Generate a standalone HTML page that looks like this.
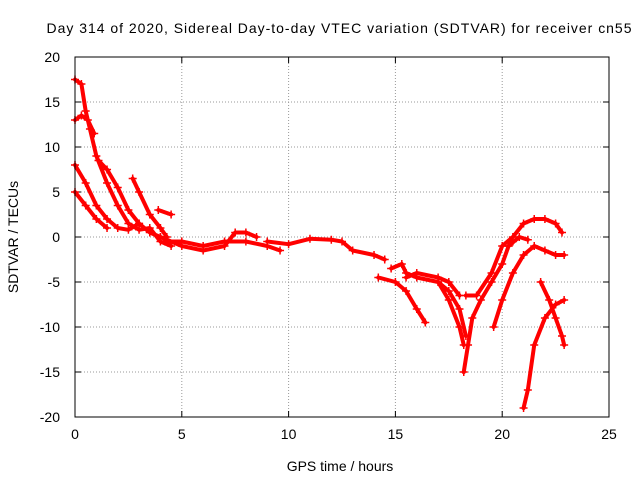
<!DOCTYPE html>
<html><head><meta charset="utf-8"><style>
html,body{margin:0;padding:0;background:#fff;}
svg{display:block;font-family:"Liberation Sans",sans-serif;}
</style></head><body>
<svg id="chart" width="640" height="480" viewBox="0 0 640 480">
<rect width="640" height="480" fill="#fff"/>
<text x="339" y="33" text-anchor="middle" font-size="14" textLength="585" lengthAdjust="spacing">Day 314 of 2020, Sidereal Day-to-day VTEC variation (SDTVAR) for receiver cn55</text>
<g id="grid"></g>
<g id="axes"></g>
<g id="series"></g>
<rect x="75" y="57" width="534" height="360" fill="none" stroke="#000" stroke-width="1"/>
<text x="340" y="471" text-anchor="middle" font-size="14">GPS time / hours</text>
<text x="18" y="237" text-anchor="middle" font-size="14" transform="rotate(-90 18 237)">SDTVAR / TECUs</text>
</svg>
<script>
const xTicks=[0,5,10,15,20,25];
const yTicks=[20,15,10,5,0,-5,-10,-15,-20];
const track1=[[0,17.5],[0.3,17],[0.5,14],[0.7,12],[1,9],[1.5,6],[2,3.5],[2.5,1.5],[3,0.8],[3.5,1],[4,-0.5],[4.5,-1]];
const track2=[[0,13],[0.3,13.5],[0.6,13],[0.9,11.5]];
const track3=[[0,8],[0.5,6],[1,3.5],[1.5,2],[2,1],[2.5,0.8],[3,1.5]];
const track4=[[0,5],[0.5,3.5],[1,2],[1.5,1]];
const track5=[[1.1,8.5],[1.5,7.5],[2,5.5],[2.5,3],[3,1.5],[3.5,0.5],[4,0]];
const track6=[[2.7,6.5],[3,5],[3.5,2.5],[4,1],[4.3,0]];
const track7=[[3.9,3],[4.5,2.5]];
const track8=[[4,0],[5,-1],[6,-1.5],[7,-1],[7.5,0.5],[8,0.5],[8.5,0]];
const track9=[[4.2,-0.5],[5,-0.5],[6,-1],[7,-0.5],[8,-0.5],[9,-1],[9.6,-1.5]];
const track10=[[9,-0.5],[10,-0.8],[11,-0.2],[12,-0.3],[12.5,-0.5],[13,-1.5],[14,-2],[14.5,-2.5]];
const track11=[[14.2,-4.5],[15,-5],[15.5,-6],[16,-8],[16.4,-9.5]];
const track12=[[14.8,-3.5],[15.3,-3],[15.5,-4],[16,-4.5],[17,-5],[17.5,-7],[18,-10],[18.2,-12]];
const track13=[[15.5,-4.5],[16,-4],[17,-4.5],[17.5,-5],[18,-6.5]];
const track14=[[17,-5],[17.5,-6],[18,-8],[18.3,-11]];
const track15=[[18.2,-15],[18.4,-12],[18.6,-9],[19,-7],[19.5,-5],[20,-3],[20.3,-1],[20.5,-0.5]];
const track16=[[18.3,-6.5],[18.8,-6.5],[19.5,-4],[20,-1],[20.5,0],[21,1.5],[21.5,2],[22,2],[22.5,1.5],[22.8,0.5]];
const track17=[[19.6,-10],[20,-7],[20.5,-4],[21,-2],[21.5,-1],[22,-1.5],[22.5,-2],[22.9,-2]];
const track18=[[20.3,-1],[20.8,0],[21.2,-0.3]];
const track19=[[21,-19],[21.2,-17],[21.5,-12],[22,-9],[22.5,-7.5],[22.9,-7]];
const track20=[[21.8,-5],[22.2,-7],[22.5,-9],[22.8,-11],[22.9,-12]];
const tracks=[track1,track2,track3,track4,track5,track6,track7,track8,track9,track10,track11,track12,track13,track14,track15,track16,track17,track18,track19,track20];

const NS="http://www.w3.org/2000/svg";
const X0=75,X1=609,Y0=417,Y1=57;
function xs(v){return X0+(v-0)/(25-0)*(X1-X0);}
function ys(v){return Y0-(v+20)/40*(Y0-Y1);}
function mk(tag,attrs,parent){const e=document.createElementNS(NS,tag);for(const k in attrs)e.setAttribute(k,attrs[k]);parent.appendChild(e);return e;}
const grid=document.getElementById('grid'),axes=document.getElementById('axes'),series=document.getElementById('series');
xTicks.forEach(t=>{
  const x=xs(t);
  if(t>0&&t<25){const g=mk('line',{x1:x,x2:x,y1:Y1,y2:Y0,stroke:'#999','stroke-dasharray':'1,2','stroke-width':1},grid);
  
  }
  mk('line',{x1:x,x2:x,y1:Y0,y2:Y0-6,stroke:'#000'},axes);
  mk('line',{x1:x,x2:x,y1:Y1,y2:Y1+6,stroke:'#000'},axes);
  const tx=mk('text',{x:x,y:Y0+22,'text-anchor':'middle','font-size':14},axes);
  tx.textContent=t;
  
  
});
yTicks.forEach(t=>{
  const y=ys(t);
  if(t>-20&&t<20){const g=mk('line',{x1:X0,x2:X1,y1:y,y2:y,stroke:'#999','stroke-dasharray':'1,2','stroke-width':1},grid);
  
  }
  mk('line',{x1:X0,x2:X0+6,y1:y,y2:y,stroke:'#000'},axes);
  mk('line',{x1:X1,x2:X1-6,y1:y,y2:y,stroke:'#000'},axes);
  const tx=mk('text',{x:X0-15,y:y+5,'text-anchor':'end','font-size':14},axes);
  tx.textContent=t;
  
  
});
tracks.forEach((tr,i)=>{
  const pl=mk('polyline',{points:tr.map(p=>xs(p[0])+','+ys(p[1])).join(' '),fill:'none',stroke:'#f00','stroke-width':4,'stroke-linejoin':'round','stroke-linecap':'round'},series);
  
  
  tr.forEach(p=>{
    const x=xs(p[0]),y=ys(p[1]);
    const m=mk('path',{d:`M${x-4},${y}H${x+4}M${x},${y-4}V${y+4}`,stroke:'#f00','stroke-width':1.5},series);
    
    
  });
});
</script>
</body></html>
